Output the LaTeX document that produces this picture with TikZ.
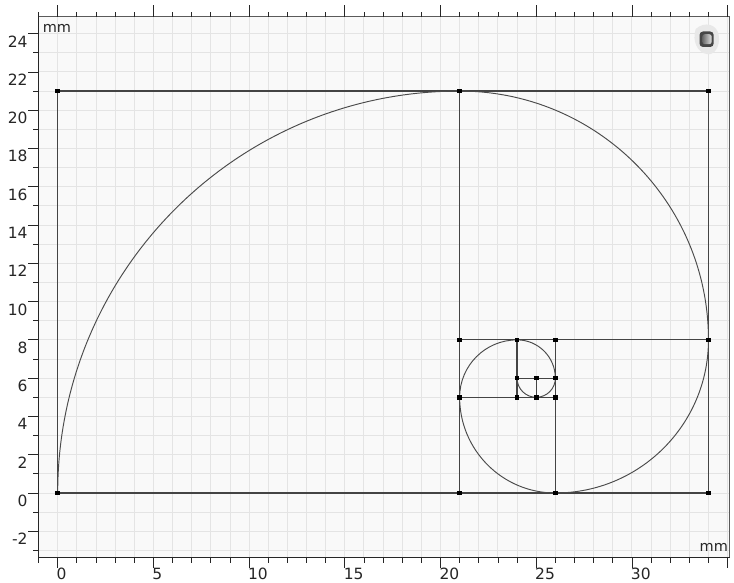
\documentclass[tikz,border=0pt]{standalone}
\usepackage{fontspec}
\setmainfont{DejaVu Sans}
\definecolor{bgc}{RGB}{249,249,249}
\definecolor{gridc}{RGB}{228,228,228}
\definecolor{edgec}{RGB}{68,68,68}
\definecolor{arcc}{RGB}{75,75,75}
\definecolor{framec}{RGB}{90,90,90}
\begin{document}
\begin{tikzpicture}[x=19.14pt,y=19.14pt,
  gridline/.style={gridc,line width=0.9pt},
  tickline/.style={black!85,line width=0.8pt},
  edgeline/.style={edgec,line width=1.2pt},
  spiral/.style={arcc,line width=0.95pt},
  vtx/.style={fill=black,inner sep=0pt,minimum size=4.6pt,draw=none,rectangle},
  ticklab/.style={inner sep=0pt,font=\fontsize{15.5pt}{18pt}\selectfont,text=black!85},
  unitlab/.style={inner sep=0pt,font=\fontsize{14.5pt}{17pt}\selectfont,text=black!85}]
\useasboundingbox (-57.7pt,-90pt) rectangle (676.3pt,493pt);
\def\Lx{-1.0136}\def\Rx{35.10}\def\Ty{24.885}\def\By{-3.38}
% plot background
\fill[bgc] (\Lx,\By) rectangle (\Rx,\Ty);
% grid
\foreach \x in {0,...,35} \draw[gridline] (\x,\By) -- (\x,\Ty);
\foreach \y in {-3,...,24} \draw[gridline] (\Lx,\y) -- (\Rx,\y);
% frame
\draw[framec,line width=0.8pt] (\Lx,\Ty) -- (\Rx,\Ty) -- (\Rx,\By);
\draw[black!85,line width=1pt] (\Lx,\Ty) -- (\Lx,\By) -- (\Rx,\By);
% top ticks
\foreach \x in {-1,...,35}{
  \pgfmathtruncatemacro\m{mod(\x+5,5)}
  \ifnum\m=0 \draw[tickline] (\x,\Ty) -- ++(0,11.4pt);
  \else \draw[tickline] (\x,\Ty) -- ++(0,4.6pt); \fi}
% bottom ticks and labels
\foreach \x in {-1,...,35}{
  \pgfmathtruncatemacro\m{mod(\x+5,5)}
  \ifnum\m=0 \draw[tickline] (\x,\By) -- ++(0,-10pt);
  \else \draw[tickline] (\x,\By) -- ++(0,-5pt); \fi}
\foreach \x in {0,5,...,30}
  \node[ticklab,anchor=north west] (xl\x) at ([xshift=-1.2pt,yshift=-10.2pt]\x,\By) {\x};
% left ticks and labels
\foreach \y in {-3,...,24}{
  \pgfmathtruncatemacro\m{mod(\y+4,2)}
  \ifnum\m=0 \draw[tickline] (\Lx,\y) -- ++(-10pt,0);
  \else \draw[tickline] (\Lx,\y) -- ++(-5pt,0); \fi}
\foreach \y in {-2,0,...,24}
  \node[ticklab,anchor=north east] (yl\y) at ([xshift=-10.6pt,yshift=-1.8pt]\Lx,\y) {\y};
% unit labels
\node[unitlab,anchor=base west] (mmtop) at (-15.1pt,460.7pt) {mm};
\node[unitlab,anchor=base east] (mmbot) at (670.4pt,-58.7pt) {mm};
% logo
\fill[black!9] (638pt,464pt) .. controls (647pt,472pt) and (659pt,469pt) .. (661pt,458pt)
  .. controls (663pt,446pt) and (656pt,437pt) .. (649pt,439pt)
  .. controls (640pt,440pt) and (634pt,452pt) .. (638pt,464pt);
\fill[black!72,rounded corners=3.5pt] (641.8pt,446pt) rectangle (656pt,461.5pt);
\shade[left color=black!60,right color=black!12,rounded corners=2.5pt] (644.5pt,448.8pt) rectangle (654pt,458.8pt);
% vertices
\foreach \px/\py in {0/0,0/21,21/21,34/21,34/8,34/0,26/0,21/0,21/8,21/5,24/8,26/8,24/5,26/5,24/6,25/6,26/6,25/5}
  \coordinate (p\px-\py) at (\px,\py);
% square edges
\draw[edgeline] (p0-0) -- (p0-21) -- (p21-21) -- (p34-21) -- (p34-8) -- (p34-0) -- (p26-0) -- (p21-0) -- (p0-0);
\draw[edgeline] (p21-0) -- (p21-5) -- (p21-8) -- (p21-21);
\draw[edgeline] (p21-8) -- (p24-8) -- (p26-8) -- (p34-8);
\draw[edgeline] (p26-0) -- (p26-5) -- (p26-6) -- (p26-8);
\draw[edgeline] (p21-5) -- (p24-5) -- (p25-5) -- (p26-5);
\draw[edgeline] (p24-5) -- (p24-6) -- (p24-8);
\draw[edgeline] (p24-6) -- (p25-6) -- (p26-6);
\draw[edgeline] (p25-5) -- (p25-6);
% spiral arcs
\draw[spiral] (p0-0) arc[start angle=180,end angle=90,radius=21];
\draw[spiral] (p21-21) arc[start angle=90,end angle=0,radius=13];
\draw[spiral] (p34-8) arc[start angle=0,end angle=-90,radius=8];
\draw[spiral] (p26-0) arc[start angle=-90,end angle=-180,radius=5];
\draw[spiral] (p21-5) arc[start angle=180,end angle=90,radius=3];
\draw[spiral] (p24-8) arc[start angle=90,end angle=0,radius=2];
\draw[spiral] (p26-6) arc[start angle=0,end angle=-90,radius=1];
\draw[spiral] (p25-5) arc[start angle=-90,end angle=-180,radius=1];
% vertex markers
\foreach \px/\py in {0/0,0/21,21/21,34/21,34/8,34/0,26/0,21/0,21/8,21/5,24/8,26/8,24/5,26/5,24/6,25/6,26/6,25/5}
  \node[vtx] (v\px-\py) at (p\px-\py) {};
\end{tikzpicture}
\end{document}
